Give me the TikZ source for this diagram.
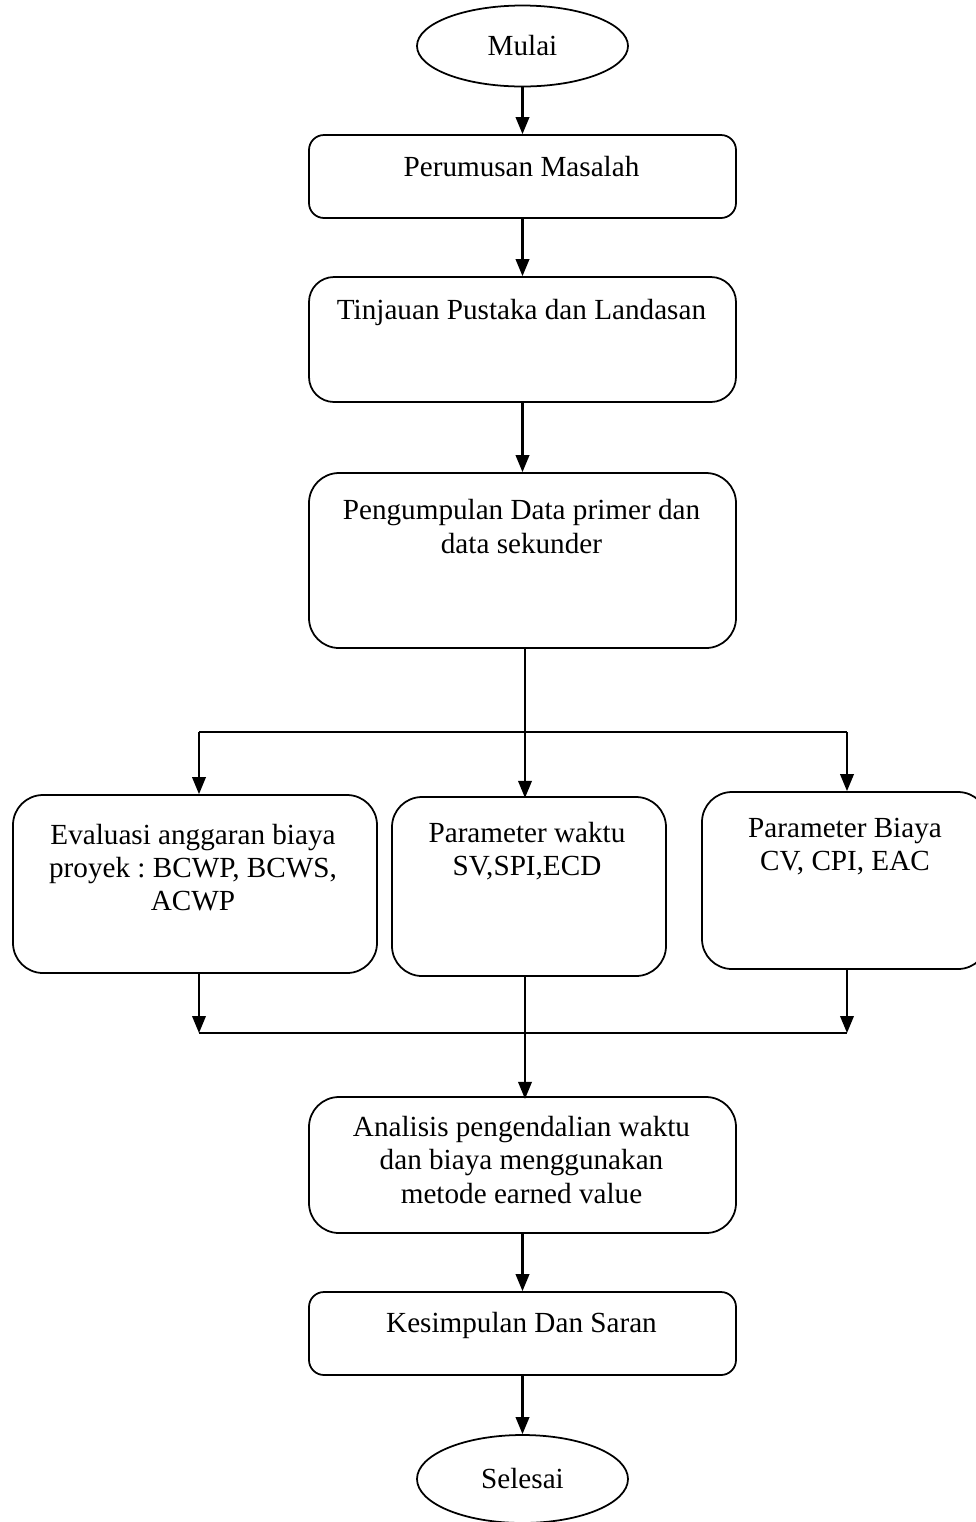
\documentclass[tikz,border=0pt]{standalone}
\usepackage{fontspec}
\setmainfont{Liberation Serif}
\usetikzlibrary{%
  arrows.meta,%
  shapes.geometric,% wg. ellipse
  positioning%
}

\begin{document}
\frenchspacing
\begin{tikzpicture}
[font=\fontsize{16.6}{18.8}\selectfont, draw=black, line width=1pt,
term/.style={ellipse, draw, inner sep=0pt, minimum width=4.22cm, minimum height=1.62cm},
box/.style={rectangle, draw, rounded corners=0.3cm, inner sep=0pt, minimum width=8.54cm},
bigbox/.style={rectangle, draw, rounded corners=0.6cm, inner sep=0pt},
txt/.style={inner sep=0pt, align=center},
arr/.style={-{Triangle[length=0.34cm,width=0.27cm]}, line width=1.2pt},
line/.style={line width=1.2pt}
]

\useasboundingbox (0,0) rectangle (19.5,-30.44);

% start
\node[term] (mulai) at (10.45,-0.92) {Mulai};

\node[box, minimum height=1.66cm] (perumusan) at (10.45,-3.53) {};
\node[txt] (perumusantxt) at (10.43,-3.34) {Perumusan Masalah};

\node[bigbox, rounded corners=0.5cm, minimum width=8.54cm, minimum height=2.5cm] (tinjauan) at (10.45,-6.79) {};
\node[txt] (tinjauantxt) at (10.43,-6.24) {Tinjauan Pustaka dan Landasan};

\node[bigbox, minimum width=8.54cm, minimum height=3.5cm] (pengumpulan) at (10.45,-11.21) {};
\node[txt] (pengumpulantxt) at (10.43,-10.53) {Pengumpulan Data primer dan\\data sekunder};

\draw[arr] (mulai) -- (perumusan);
\draw[arr] (perumusan) -- (tinjauan);
\draw[arr] (tinjauan) -- (pengumpulan);

% three parameter boxes
\node[bigbox, minimum width=7.28cm, minimum height=3.56cm] (evaluasi) at (3.90,-17.68) {};
\node[txt] (evaluasitxt) at (3.86,-17.36) {Evaluasi anggaran biaya\\proyek : BCWP, BCWS,\\ACWP};

\node[bigbox, minimum width=5.48cm, minimum height=3.58cm] (waktu) at (10.58,-17.73) {};
\node[txt] (waktutxt) at (10.54,-17.02) {Parameter waktu\\SV,SPI,ECD};

\node[bigbox, minimum width=5.72cm, minimum height=3.54cm] (biaya) at (16.90,-17.61) {};
\node[txt] (biayatxt) at (16.90,-16.94) {Parameter Biaya\\CV, CPI, EAC};

\coordinate (splitL) at (3.98,-14.64);
\coordinate (splitR) at (16.94,-14.64);
\coordinate (joinL) at (3.98,-20.66);
\coordinate (joinR) at (16.94,-20.66);

\draw[arr] (pengumpulan.south) ++(0.05,0) -- ++(0,-2.98);
\draw[line] (splitL) -- (splitR);
\draw[arr] (splitL) -- (splitL |- evaluasi.north);
\draw[arr] (splitR) -- (splitR |- biaya.north);

\node[bigbox, minimum width=8.54cm, minimum height=2.72cm] (analisis) at (10.45,-23.30) {};
\node[txt] (analisistxt) at (10.43,-23.20) {Analisis pengendalian waktu\\dan biaya menggunakan\\metode earned value};

\draw[arr] (evaluasi.south -| joinL) -- (joinL);
\draw[arr] (biaya.south -| joinR) -- (joinR);
\draw[line] (joinL) -- (joinR);
\draw[arr] (waktu.south -| analisis.north) ++(0.05,0) -- ++(0,-2.44);

\node[box, minimum height=1.66cm] (kesimpulan) at (10.45,-26.67) {};
\node[txt] (kesimpulantxt) at (10.43,-26.50) {Kesimpulan Dan Saran};

\node[term, minimum height=1.76cm] (selesai) at (10.45,-29.58) {Selesai};

\draw[arr] (analisis) -- (kesimpulan);
\draw[arr] (kesimpulan) -- (selesai);
\end{tikzpicture}
\end{document}
